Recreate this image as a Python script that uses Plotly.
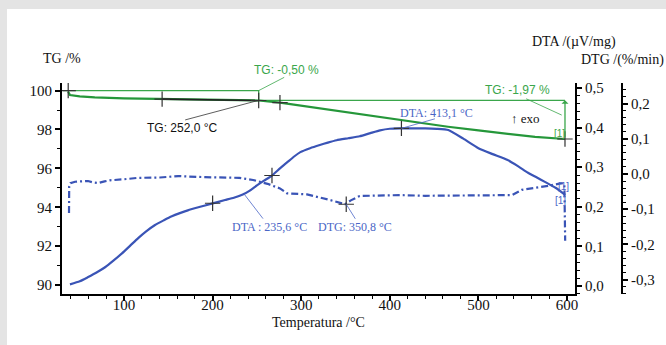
import plotly.graph_objects as go

# ---------------- data ----------------
temp_tg = [37, 39, 50, 67, 100, 143, 200, 252, 276, 300, 350, 411.5, 465.7, 500, 563.9, 597.7]
tg = [99.94, 99.77, 99.7, 99.65, 99.6, 99.56, 99.52, 99.49, 99.38, 99.22, 98.9, 98.5, 98.14, 97.95, 97.62, 97.51]

temp_dta = [39, 50, 59, 69, 79, 88, 98, 107, 116, 125, 135, 145, 154, 163, 172, 186, 199, 214, 224, 234, 242,
            250, 258, 267, 276, 285, 292, 299, 310, 321, 330, 340, 353, 366, 378, 389, 400, 411,
            425, 440, 453, 466, 483, 500, 516, 533, 545, 556, 566, 575, 587, 598]
dta = [0.004, 0.012, 0.022, 0.034, 0.048, 0.064, 0.083, 0.102, 0.121, 0.138, 0.154, 0.166, 0.176, 0.184, 0.191,
       0.2, 0.208, 0.217, 0.223, 0.231, 0.241, 0.254, 0.266, 0.279, 0.297, 0.314, 0.327, 0.338, 0.348, 0.356,
       0.362, 0.368, 0.373, 0.378, 0.386, 0.393, 0.397, 0.398, 0.398, 0.398, 0.397, 0.394, 0.372, 0.348,
       0.333, 0.318, 0.302, 0.286, 0.274, 0.263, 0.248, 0.23]

temp_dtg = [37.9, 38.1, 39.5, 44.7, 52, 59.4, 65, 70.7, 78, 84, 100, 115.8, 140.6, 161, 191, 210.6, 230, 245.6,
            262, 276, 284, 306.5, 320, 332.5, 349.4, 356, 366, 411.5, 440, 468, 500, 538, 549, 564, 578.5, 590,
            595.5, 597.0, 597.7, 597.9]
dtg = [-0.111, -0.035, -0.026, -0.022, -0.021, -0.020, -0.024, -0.026, -0.021, -0.018, -0.015, -0.011, -0.010,
       -0.006, -0.009, -0.009, -0.011, -0.017, -0.028, -0.041, -0.055, -0.058, -0.066, -0.074, -0.086, -0.075,
       -0.0625, -0.060, -0.062, -0.061, -0.060, -0.060, -0.045, -0.040, -0.034, -0.028, -0.026, -0.03, -0.10, -0.19]

# marked points
tg_mark_t = [37, 143, 252, 276, 597.7]
tg_mark_v = [100.0, 99.56, 99.49, 99.38, 97.51]
dta_mark_t = [200, 267, 413.1]
dta_mark_v = [0.209, 0.279, 0.398]
dtg_mark_t = [350.8]
dtg_mark_v = [-0.086]

# TG step evaluation
tg_start_level = 100.0
tg_step1_t = 252.0
tg_step1_v = 99.5
tg_end_t = 597.7
tg_end_v = 97.53

# tick labels
x_ticks = [100, 200, 300, 400, 500, 600]
x_ticktext = ["100", "200", "300", "400", "500", "600"]
tg_ticks = [90, 92, 94, 96, 98, 100]
tg_ticktext = ["90", "92", "94", "96", "98", "100"]
dta_ticks = [0.0, 0.1, 0.2, 0.3, 0.4, 0.5]
dta_ticktext = ["0,0", "0,1", "0,2", "0,3", "0,4", "0,5"]
dtg_ticks = [-0.3, -0.2, -0.1, 0.0, 0.1, 0.2]
dtg_ticktext = ["-0,3", "-0,2", "-0,1", "0,0", "0,1", "0,2"]

# ---------------- style ----------------
W, H = 666, 345
L, R, T, B = 62, 44, 83, 51
PW, PH = W - L - R, H - T - B
GREEN = "#25973a"
GREEN_T = "#3aa64b"
BLUE = "#3a54b6"
BLUE_T = "#4a66c6"
SERIF = "Liberation Serif"
SANS = "Liberation Sans"


def px(x):
    return (x - L) / PW


def py(y):
    return (H - B - y) / PH


fig = go.Figure()

# TG step reference lines
fig.add_trace(go.Scatter(x=[31, tg_step1_t, tg_step1_t, tg_end_t],
                         y=[tg_start_level, tg_start_level, tg_step1_v, tg_step1_v],
                         mode="lines", line=dict(color=GREEN_T, width=1.3), yaxis="y", hoverinfo="skip"))
# TG curve
fig.add_trace(go.Scatter(x=temp_tg, y=tg, mode="lines", line=dict(color=GREEN, width=2.2), yaxis="y"))
# tangent segment
fig.add_trace(go.Scatter(x=tg_mark_t[1:3], y=tg_mark_v[1:3], mode="lines",
                         line=dict(color="#222222", width=1.6), yaxis="y"))
# DTA curve
fig.add_trace(go.Scatter(x=temp_dta, y=dta, mode="lines", line=dict(color=BLUE, width=2.2, shape="spline",
                         smoothing=0.5), yaxis="y2"))
# DTG curve
fig.add_trace(go.Scatter(x=temp_dtg, y=dtg, mode="lines",
                         line=dict(color=BLUE, width=2.2, dash="7px,3px,2px,3px"), yaxis="y3"))

cross = dict(symbol="cross-thin", size=11, line=dict(color="#333333", width=1.2))
fig.add_trace(go.Scatter(x=tg_mark_t, y=tg_mark_v, mode="markers", marker=cross, yaxis="y"))
fig.add_trace(go.Scatter(x=dta_mark_t, y=dta_mark_v, mode="markers", marker=cross, yaxis="y2"))
fig.add_trace(go.Scatter(x=dtg_mark_t, y=dtg_mark_v, mode="markers", marker=cross, yaxis="y3"))

annotations = []
# arrow for -1.97 %
annotations.append(dict(x=tg_end_t, y=tg_step1_v, xref="x", yref="y", ax=tg_end_t, ay=tg_end_v,
                        axref="x", ayref="y", showarrow=True, arrowhead=1, arrowsize=0.9, arrowwidth=1.3,
                        arrowcolor=GREEN_T, text=""))


# leader lines (empty-text arrows)
def leader(x, y, yref, dx, dy, color):
    annotations.append(dict(x=x, y=y, xref="x", yref=yref, ax=dx, ay=dy, showarrow=True, arrowhead=0,
                            arrowwidth=0.8, arrowcolor=color, text="", standoff=0))


leader(tg_step1_t, tg_start_level, "y", 27, -14, GREEN_T)
leader(tg_step1_t, tg_step1_v, "y", -75, 20, "#333333")
leader(594, 98.74, "y", -37, -17, GREEN_T)
leader(413.1, 0.398, "y2", 35, -10, BLUE_T)
leader(235.6, 0.232, "y2", 20, 26, BLUE_T)
leader(350.8, -0.086, "y3", 10, 16, BLUE_T)


def label(text, cx, cy, color, font, size, xanchor="center"):
    annotations.append(dict(x=px(cx), y=py(cy), xref="paper", yref="paper", text=text, showarrow=False,
                            xanchor=xanchor, yanchor="middle", font=dict(color=color, family=font, size=size)))


label("TG: -0,50 %", 286, 70, GREEN_T, SANS, 12)
label("TG: 252,0 °C", 182, 128, "#111111", SANS, 12)
label("TG: -1,97 %", 517, 90, GREEN_T, SANS, 12)
label("↑ exo", 525, 118, "#111111", SERIF, 13)
label("DTA: 413,1 °C", 436, 113, BLUE_T, SERIF, 12)
label("DTA : 235,6 °C", 269, 227, BLUE_T, SERIF, 12)
label("DTG: 350,8 °C", 355, 227, BLUE_T, SERIF, 12)
label("[1]", 559, 133, GREEN_T, SANS, 10)
label("[1]", 560, 200, BLUE_T, SANS, 10)
label("[1]", 563, 186, BLUE_T, SANS, 10)
# axis titles
label("TG /%", 61.5, 58, "#111111", SERIF, 14)
label("DTA /(µV/mg)", 574, 42, "#111111", SERIF, 14)
label("DTG /(%/min)", 622, 60, "#111111", SERIF, 14)
label("Temperatura /°C", 318, 322, "#111111", SERIF, 14)

axis_common = dict(showline=True, linewidth=2, linecolor="black", ticks="outside", ticklen=5, tickwidth=1.5,
                   tickcolor="black", showgrid=False, zeroline=False,
                   tickfont=dict(family=SERIF, size=15, color="#111111"))

fig.update_layout(
    width=W, height=H, margin=dict(l=L, r=R, t=T, b=B, autoexpand=False),
    paper_bgcolor="white", plot_bgcolor="white", showlegend=False,
    xaxis=dict(domain=[0, (575 - L) / PW], range=[30, 609], tickmode="array", tickvals=x_ticks,
               ticktext=x_ticktext, ticklabelstandoff=-9,
               minor=dict(tickmode="linear", tick0=0, dtick=20, ticks="outside", ticklen=3, tickwidth=1.2,
                          tickcolor="black"), **axis_common),
    yaxis=dict(range=[89.54, 100.39], tickmode="array", tickvals=tg_ticks, ticktext=tg_ticktext,
               minor=dict(tickmode="linear", tick0=0, dtick=1, ticks="outside", ticklen=3, tickwidth=1.2,
                          tickcolor="black"), **axis_common),
    yaxis2=dict(range=[-0.0202, 0.5126], overlaying="y", side="right", anchor="x", tickmode="array",
                tickvals=dta_ticks, ticktext=dta_ticktext,
                minor=dict(tickmode="linear", tick0=0, dtick=0.02, ticks="outside", ticklen=3, tickwidth=1.2,
                           tickcolor="black"), **axis_common),
    yaxis3=dict(range=[-0.341, 0.2585], overlaying="y", side="right", anchor="free", position=1.0,
                tickmode="array", tickvals=dtg_ticks, ticktext=dtg_ticktext,
                minor=dict(tickmode="linear", tick0=0, dtick=0.02, ticks="outside", ticklen=3, tickwidth=1.2,
                           tickcolor="black"), **axis_common),
    annotations=annotations,
    shapes=[
        dict(type="rect", xref="paper", yref="paper", x0=px(0), x1=px(W), y0=py(9), y1=py(0),
             fillcolor="#e4e4e4", line=dict(width=0), layer="below"),
        dict(type="rect", xref="paper", yref="paper", x0=px(0), x1=px(7), y0=py(H), y1=py(0),
             fillcolor="#e4e4e4", line=dict(width=0), layer="below"),
    ],
)

fig.write_html("out.html")
